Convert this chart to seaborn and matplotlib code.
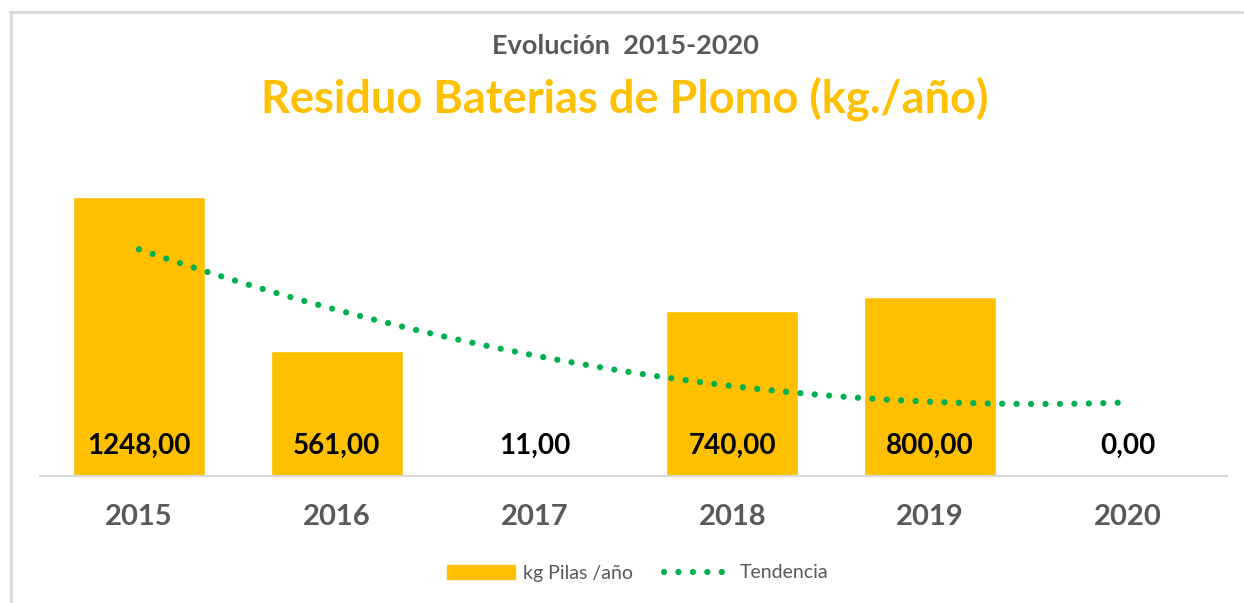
import matplotlib.pyplot as plt
import matplotlib.lines as mlines
import matplotlib.patches as mpatches
import numpy as np
import pandas as pd
import seaborn as sns

years = ['2015', '2016', '2017', '2018', '2019', '2020']
kg_values = [1248.0, 561.0, 11.0, 740.0, 800.0, 0.0]

bar_color = '#FFC000'
trend_color = '#00B050'
grey = '#595959'

sns.set_theme(style='white')
plt.rcParams['font.family'] = ['Lato', 'DejaVu Sans']

df = pd.DataFrame({'year': years, 'kg': kg_values, 'pos': np.arange(len(years))})

fig = plt.figure(figsize=(12.44, 6.03), dpi=100)
ax = fig.add_axes([40 / 1244, 127 / 603, 1187 / 1244, 313 / 603])

sns.barplot(data=df, x='year', y='kg', color=bar_color, width=0.667,
            saturation=1, ax=ax)

# polynomial (order 2) trend line, like the Excel trendline
dots = (0, (0.01, 2.3))
sns.regplot(data=df, x='pos', y='kg', order=2, ci=None, scatter=False,
            truncate=True, ax=ax,
            line_kws=dict(color=trend_color, lw=4.5, linestyle=dots,
                          dash_capstyle='round'))

ax.set_xlim(-0.5, 5.5)
ax.set_ylim(0, 1400)
ax.set_xlabel('')
ax.set_ylabel('')
ax.set_yticks([])
ax.set_xticks(range(len(years)))
ax.set_xticklabels(years, fontsize=21, fontweight='bold', color=grey)
ax.tick_params(axis='x', length=0, pad=20)
for s in ['top', 'right', 'left']:
    ax.spines[s].set_visible(False)
ax.spines['bottom'].set_color('#D9D9D9')
ax.spines['bottom'].set_linewidth(1.5)

for i, v in enumerate(kg_values):
    ax.text(i, 30 / 0.2236, f'{v:.2f}'.replace('.', ','), ha='center', va='center',
            fontsize=20, fontweight='bold', color='black')

fig.text(625 / 1244, 1 - 46 / 603, 'Evolución  2015-2020', ha='center', va='center',
         fontsize=19.5, fontweight='bold', color=grey)
fig.text(625 / 1244, 1 - 99 / 603, 'Residuo Baterias de Plomo (kg./año)', ha='center',
         va='center', fontsize=32.5, fontweight='bold', color=bar_color)

handles = [mpatches.Patch(color=bar_color, label='kg Pilas /año'),
           mlines.Line2D([], [], color=trend_color, lw=4.5, linestyle=dots,
                         dash_capstyle='round', label='Tendencia')]
fig.legend(handles=handles, loc='center', bbox_to_anchor=(638 / 1244, 1 - 573 / 603),
           ncol=2, frameon=False, fontsize=14, labelcolor=grey, handlelength=3.5,
           handleheight=0.7, columnspacing=1.6, handletextpad=0.4)

# chart area border (top and left visible)
fig.add_artist(mlines.Line2D([10 / 1244, 1243 / 1244], [1 - 12 / 603, 1 - 12 / 603],
                             color='#D9D9D9', lw=2, transform=fig.transFigure))
fig.add_artist(mlines.Line2D([10.5 / 1244, 10.5 / 1244], [0, 1 - 12 / 603],
                             color='#D9D9D9', lw=2, transform=fig.transFigure))

fig.savefig('out.png', dpi=100, facecolor='white')
